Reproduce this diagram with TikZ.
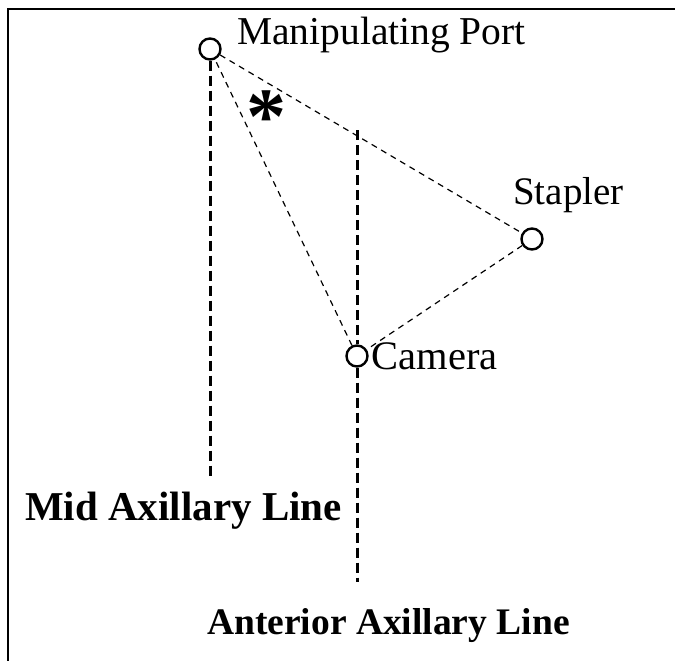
\documentclass[tikz,border=0pt]{standalone}
\usepackage{fontspec}
\setmainfont{Liberation Serif}
\usetikzlibrary{positioning}

\begin{document}
\begin{tikzpicture}[x=1pt, y=-1pt,
  port/.style={circle, draw, line width=2.4pt, minimum size=21pt,
               inner sep=0pt, fill=white},
  axisline/.style={line width=3pt, dash pattern=on 10pt off 5pt},
  link/.style={line width=1.2pt, dash pattern=on 6pt off 5pt},
  lbl/.style={font=\fontsize{39.5}{42}\selectfont, inner sep=0pt},
  axlbl/.style={font=\fontsize{41}{44}\selectfont\bfseries, inner sep=0pt}]
  \useasboundingbox (0,0) rectangle (675,661);
  % Frame: top and left edges
  \draw[line width=1.5pt] (8,661) -- (8,9) -- (675,9);
  % Ports
  \node[port] (mp) at (210,49) {};
  \node[port] (st) at (532,239) {};
  \node[port] (cam) at (357,356) {};
  % Axillary lines
  \coordinate (midend) at (210,476);
  \coordinate (anttop) at (357,130);
  \coordinate (antend) at (357,582);
  \draw[axisline] (mp) -- (midend);
  \draw[axisline] (anttop) -- (cam);
  \draw[axisline] (cam) -- (antend);
  % Triangle between ports
  \draw[link] (mp) -- (st);
  \draw[link] (st) -- (cam);
  \draw[link] (cam) -- (mp);
  % Labels
  \node[lbl, anchor=base west] (mplbl) at (237,45) {Manipulating Port};
  \node[lbl, anchor=base west, font=\fontsize{39}{42}\selectfont]
       (stlbl) at (513,204) {Stapler};
  \node[lbl, right=3pt of cam, font=\fontsize{40.5}{44}\selectfont]
       (camlbl) {Camera};
  \node[axlbl, anchor=base west] (midlbl) at (25,520) {Mid Axillary Line};
  \node[axlbl, anchor=base west, font=\fontsize{37.5}{42}\selectfont\bfseries]
       (antlbl) at (207,634) {Anterior Axillary Line};
  \node[font=\fontsize{80}{80}\selectfont\bfseries, inner sep=0pt,
        anchor=base] (star) at (266,143) {*};
\end{tikzpicture}
\end{document}
